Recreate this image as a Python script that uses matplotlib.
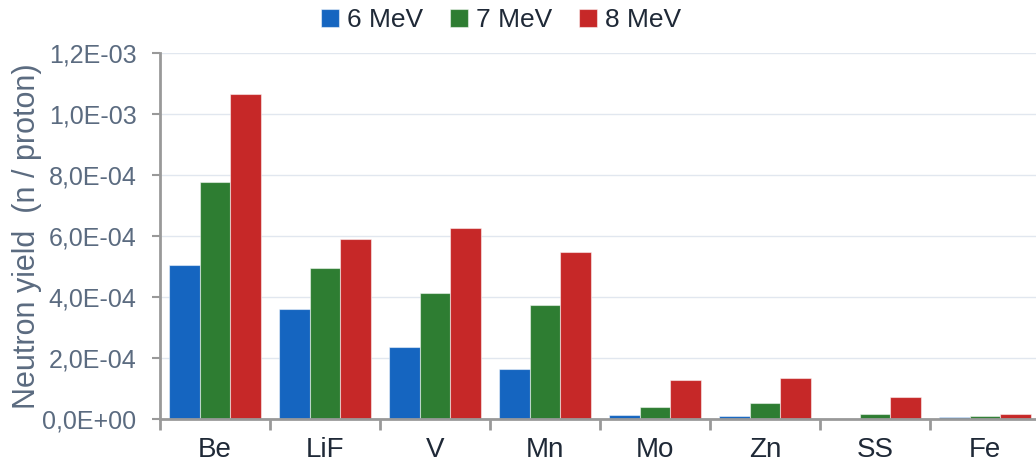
import numpy as np
import matplotlib.pyplot as plt
from matplotlib.ticker import FuncFormatter

# categories (targets) and neutron yields for each proton energy
targets = ["Be", "LiF", "V", "Mn", "Mo", "Zn", "SS", "Fe"]
yield_6mev = [5.05e-4, 3.61e-4, 2.36e-4, 1.64e-4, 0.14e-4, 0.09e-4, 0.01e-4, 0.08e-4]
yield_7mev = [7.77e-4, 4.95e-4, 4.13e-4, 3.74e-4, 0.38e-4, 0.51e-4, 0.15e-4, 0.09e-4]
yield_8mev = [10.66e-4, 5.90e-4, 6.26e-4, 5.48e-4, 1.28e-4, 1.36e-4, 0.71e-4, 0.15e-4]
series_names = ["6 MeV", "7 MeV", "8 MeV"]
colors = ["#1565C0", "#2E7D32", "#C62828"]

plt.rcParams['font.family'] = ['Liberation Sans', 'DejaVu Sans']

fig = plt.figure(figsize=(10.36, 4.67), dpi=100)
ax = fig.add_axes([160/1036, 48/467, 880/1036, 366/467])

x = np.arange(len(targets))
w = 0.28
for i, vals in enumerate([yield_6mev, yield_7mev, yield_8mev]):
    ax.bar(x + (i - 1) * w, vals, width=w, color=colors[i], label=series_names[i],
           edgecolor=(1, 1, 1, 0.5), linewidth=0.8, zorder=2)

ax.set_xlim(-0.5, len(targets) - 0.5)
ax.set_ylim(0, 1.2e-3)
ax.set_yticks(np.arange(0, 1.21e-3, 2e-4))
ax.yaxis.set_major_formatter(FuncFormatter(lambda v, p: ("%.1E" % v).replace(".", ",")))
ax.grid(axis='y', color="#E1E7EF", linewidth=1, zorder=0)

# category labels centred, ticks at group boundaries
ax.set_xticks(x)
ax.set_xticklabels(targets, fontsize=20, color="#1F2937")
ax.tick_params(axis='x', which='major', length=0, pad=13)
ax.set_xticks(np.arange(-0.5, len(targets)), minor=True)
ax.tick_params(axis='x', which='minor', length=8, width=2, color="#999999")
ax.tick_params(axis='y', length=6, width=1.5, color="#999999", labelsize=18,
               labelcolor="#5B6B80", pad=11)

for s in ["top", "right"]:
    ax.spines[s].set_visible(False)
for s in ["left", "bottom"]:
    ax.spines[s].set_color("#999999")
    ax.spines[s].set_linewidth(2)

ax.set_ylabel("Neutron yield  (n / proton)", fontsize=22, color="#5B6B80", labelpad=0.5)

fig.legend(loc="center", bbox_to_anchor=(501/1036, 1 - 20/467), ncol=3, frameon=False,
           fontsize=19, handlelength=0.7, handleheight=0.7, handletextpad=0.3,
           columnspacing=1.0, labelcolor="#1F2937")

fig.savefig("out.png", dpi=100)
